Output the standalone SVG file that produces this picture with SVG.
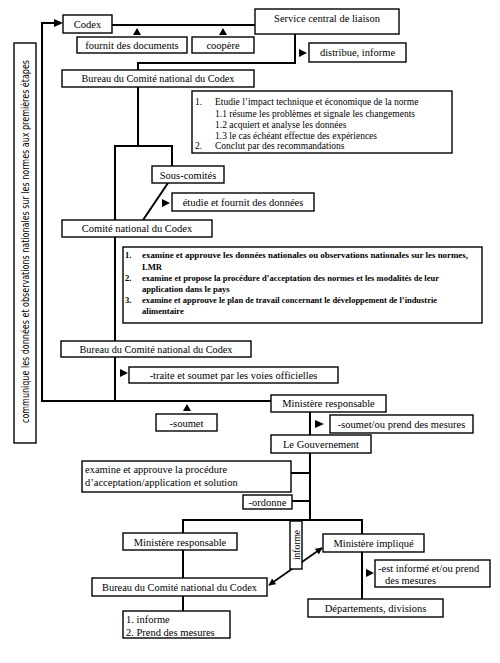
<svg xmlns="http://www.w3.org/2000/svg" width="500" height="663" viewBox="0 0 500 663">
<style>
.b{fill:#fff;stroke:#000;stroke-width:1.4}
.c{fill:none;stroke:#000;stroke-width:2}
.t{font-family:"Liberation Serif","Times New Roman",serif;font-size:10.5px;fill:#000}
.m{text-anchor:middle}
.s{font-family:"Liberation Serif","Times New Roman",serif;font-size:9.5px;fill:#000}
.k{font-family:"Liberation Serif","Times New Roman",serif;font-size:8.6px;font-weight:bold;fill:#000}
.v{font-family:"DejaVu Sans Condensed","Liberation Sans",sans-serif;font-size:10px;fill:#000}
.a{fill:#000}
</style>
<defs>
<marker id="ah" viewBox="0 0 10 10" refX="9" refY="5" markerWidth="7" markerHeight="7" orient="auto-start-reverse" markerUnits="userSpaceOnUse"><path d="M0,0 L10,5 L0,10 z" fill="#000"/></marker>
</defs>
<g id="connectors">
<path class="c" d="M42,401 V23 H56"/>
<path class="a" d="M54,19 L63,23 L54,27 z"/>
<path class="c" d="M112,25 H255"/>
<path class="c" d="M295,34 V63 H138 V70"/>
<path class="c" d="M138,87 V146 H115 V401"/>
<path class="c" d="M138,146 H172 V166"/>
<path class="c" d="M168,183 L143,220"/>
<path class="c" d="M41,401 H271"/>
<path class="c" d="M310,412 V520"/>
<path class="c" d="M291,473 H310"/>
<path class="c" d="M292,501 H310"/>
<path class="c" d="M183,533 V520 H362 V534"/>
<path class="c" d="M183,550 V578"/>
<path class="c" d="M183,596 V611"/>
<path class="c" d="M362,552 V599"/>
<path fill="none" stroke="#000" stroke-width="1.6" d="M269,585 L322,548" marker-start="url(#ah)" marker-end="url(#ah)"/>
<path class="a" d="M133,35 L137,28 L141,35 z"/>
<path class="a" d="M219,35 L223,28 L227,35 z"/>
<path class="a" d="M183,411 L187,404 L191,411 z"/>
<path class="a" d="M299,49 L307,53 L299,57 z"/>
<path class="a" d="M162,199 L170,203 L162,207 z"/>
<path class="a" d="M120,369 L128,373 L120,377 z"/>
<path class="a" d="M315,420 L324,424 L315,428 z"/>
<path class="a" d="M366,569 L374,573 L366,577 z"/>
</g>
<g id="n-label-left">
<rect class="b" x="14" y="43" width="22" height="400"/>
<text class="v m" transform="translate(28.5,241.5) rotate(-90)" textLength="363" lengthAdjust="spacingAndGlyphs">communique les données et observations nationales sur les normes aux premières étapes</text>
</g>
<g id="n-codex"><rect class="b" x="63" y="15" width="49" height="18"/><text class="t m" x="87.5" y="28">Codex</text></g>
<g id="n-service"><rect class="b" x="255" y="9" width="144" height="25"/><text class="t m" x="327" y="22">Service central de liaison</text></g>
<g id="n-fournit"><rect class="b" x="77" y="37" width="110" height="16"/><text class="t m" x="132" y="48.5">fournit des documents</text></g>
<g id="n-coopere"><rect class="b" x="192" y="37" width="62" height="16"/><text class="t m" x="223" y="48.5">coopère</text></g>
<g id="n-distribue"><rect class="b" x="309" y="43" width="97" height="19"/><text class="t m" x="357.5" y="56">distribue, informe</text></g>
<g id="n-bureau1"><rect class="b" x="62" y="70" width="192" height="17"/><text class="t m" x="158" y="82" textLength="153" lengthAdjust="spacingAndGlyphs">Bureau du Comité national du Codex</text></g>
<g id="n-etudie-list">
<rect class="b" x="192" y="91" width="260" height="62"/>
<text class="s" x="195" y="105">1.</text><text class="s" x="215" y="105">Etudie l’impact technique et économique de la norme</text>
<text class="s" x="215" y="117">1.1 résume les problèmes et signale les changements</text>
<text class="s" x="215" y="128">1.2 acquiert et analyse les données</text>
<text class="s" x="215" y="139">1.3 le cas échéant effectue des expériences</text>
<text class="s" x="195" y="149">2.</text><text class="s" x="215" y="149">Conclut par des recommandations</text>
</g>
<g id="n-souscomites"><rect class="b" x="152" y="166" width="72" height="17"/><text class="t m" x="188" y="178.5">Sous-comités</text></g>
<g id="n-etudie"><rect class="b" x="172" y="193" width="142" height="18"/><text class="t m" x="243" y="205.5">étudie et fournit des données</text></g>
<g id="n-comite"><rect class="b" x="62" y="220" width="150" height="17"/><text class="t m" x="137" y="232">Comité national du Codex</text></g>
<g id="n-examine-list">
<rect class="b" x="123" y="247" width="359" height="76"/>
<text class="k" x="125" y="258">1.</text><text class="k" x="142" y="258" textLength="326" lengthAdjust="spacingAndGlyphs">examine et approuve les données nationales ou observations nationales sur les normes,</text>
<text class="k" x="142" y="270">LMR</text>
<text class="k" x="125" y="281">2.</text><text class="k" x="142" y="281" textLength="297" lengthAdjust="spacingAndGlyphs">examine et propose la procédure d’acceptation des normes et les modalités de leur</text>
<text class="k" x="142" y="292">application dans le pays</text>
<text class="k" x="125" y="303">3.</text><text class="k" x="142" y="303" textLength="295" lengthAdjust="spacingAndGlyphs">examine et approuve le plan de travail concernant le développement de l’industrie</text>
<text class="k" x="142" y="314">alimentaire</text>
</g>
<g id="n-bureau2"><rect class="b" x="61" y="341" width="190" height="16"/><text class="t m" x="156" y="353" textLength="153" lengthAdjust="spacingAndGlyphs">Bureau du Comité national du Codex</text></g>
<g id="n-traite"><rect class="b" x="129" y="367" width="209" height="16"/><text class="t m" x="233.5" y="379">-traite et soumet par les voies officielles</text></g>
<g id="n-soumet"><rect class="b" x="156" y="414" width="61" height="17"/><text class="t m" x="186.5" y="426.5">-soumet</text></g>
<g id="n-ministere1"><rect class="b" x="271" y="395" width="115" height="17"/><text class="t m" x="328.5" y="407">Ministère responsable</text></g>
<g id="n-soumetou"><rect class="b" x="330" y="415" width="143" height="18"/><text class="t m" x="401.5" y="427.5">-soumet/ou prend des mesures</text></g>
<g id="n-gouvernement"><rect class="b" x="271" y="435" width="100" height="18"/><text class="t m" x="321" y="447.5">Le Gouvernement</text></g>
<g id="n-examine-proc"><rect class="b" x="82" y="461" width="209" height="31"/>
<text class="t" x="85" y="473">examine et approuve la procédure</text>
<text class="t" x="85" y="486">d’acceptation/application et solution</text></g>
<g id="n-ordonne"><rect class="b" x="243" y="495" width="49" height="14"/><text class="t m" x="267.5" y="505.5">-ordonne</text></g>
<g id="n-ministere2"><rect class="b" x="123" y="533" width="114" height="17"/><text class="t m" x="180" y="545.5">Ministère responsable</text></g>
<g id="n-impl"><rect class="b" x="323" y="534" width="101" height="18"/><text class="t m" x="373.5" y="546.5">Ministère impliqué</text></g>
<g id="n-informe-label"><rect class="b" x="290" y="521" width="12" height="48"/><text class="t m" transform="translate(299.5,545) rotate(-90)" style="font-size:9.5px">informe</text></g>
<g id="n-bureau3"><rect class="b" x="92" y="578" width="175" height="18"/><text class="t m" x="179.5" y="590.5" textLength="155" lengthAdjust="spacingAndGlyphs">Bureau du Comité national du Codex</text></g>
<g id="n-estinforme"><rect class="b" x="375" y="560" width="115" height="27"/>
<text class="t" x="378" y="572">-est informé et/ou prend</text>
<text class="t" x="385" y="584">des mesures</text></g>
<g id="n-informe-list"><rect class="b" x="123" y="611" width="107" height="27"/>
<text class="t" x="126" y="623">1. informe</text>
<text class="t" x="126" y="636">2. Prend des mesures</text></g>
<g id="n-departements"><rect class="b" x="308" y="599" width="135" height="18"/><text class="t m" x="375.5" y="612">Départements, divisions</text></g>
</svg>
